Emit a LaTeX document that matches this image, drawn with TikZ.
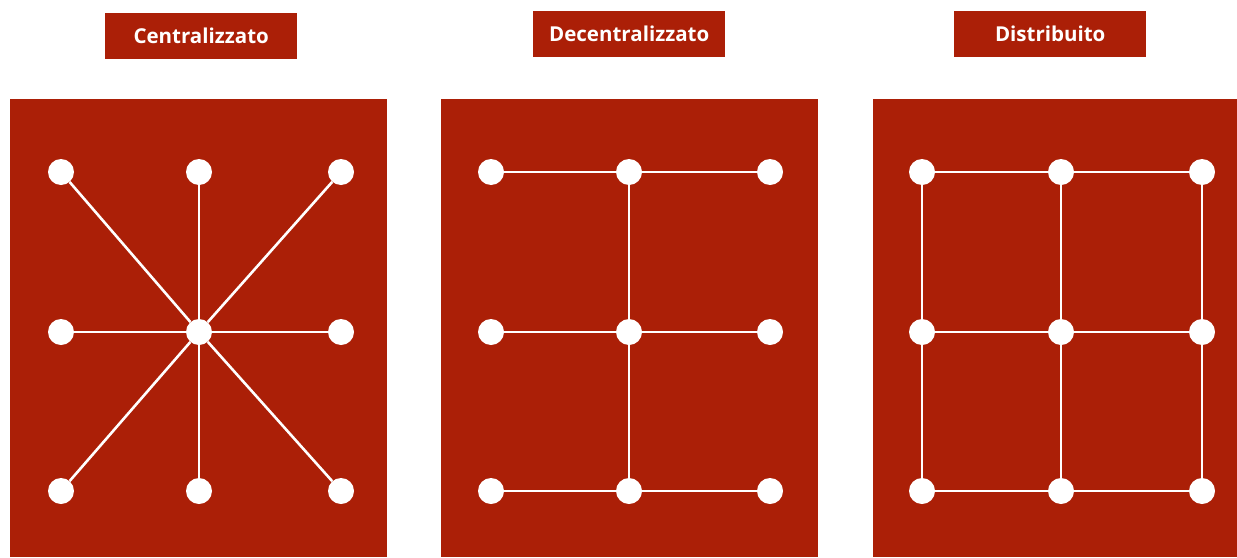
\documentclass[tikz,border=0pt]{standalone}
\usepackage{fontspec}
\setmainfont{Open Sans}
\definecolor{rosso}{RGB}{171,31,7}
\begin{document}
\begin{tikzpicture}[x=1pt,y=-1pt,
  panel/.style={fill=rosso,draw=none},
  titlebox/.style={fill=rosso,text=white,font=\fontsize{20.5}{22}\selectfont\bfseries,minimum width=192pt,minimum height=46pt,inner sep=0pt,anchor=north west},
  pt/.style={circle,fill=white,draw=none,minimum size=26pt,inner sep=0pt},
  link/.style={white,line width=2.6pt}]
\useasboundingbox (0,0) rectangle (1237,557);
\fill[white] (0,0) rectangle (1237,557);
% panels
\fill[panel] (10,99) rectangle (387,557);
\fill[panel] (441,99) rectangle (818,557);
\fill[panel] (873,99) rectangle (1237,557);
% titles
\node[titlebox] (t1) at (105,13) {\raisebox{1pt}{Centralizzato}};
\node[titlebox] (t2) at (533,11) {\raisebox{1pt}{Decentralizzato}};
\node[titlebox] (t3) at (954,11) {\raisebox{1pt}{Distribuito}};
% nodes
\foreach \c/\x in {1/61,2/199,3/341}{
  \foreach \r/\y in {1/172,2/332,3/491}{
    \node[pt] (a\r\c) at (\x,\y) {};
  }}
\foreach \c/\x in {1/491,2/629,3/770}{
  \foreach \r/\y in {1/172,2/332,3/491}{
    \node[pt] (b\r\c) at (\x,\y) {};
  }}
\foreach \c/\x in {1/922,2/1061,3/1202}{
  \foreach \r/\y in {1/172,2/332,3/491}{
    \node[pt] (c\r\c) at (\x,\y) {};
  }}
% panel 1 edges (star)
\foreach \n in {a11,a12,a13,a21,a23,a31,a32,a33}{
  \draw[link] (a22) -- (\n);
}
% panel 2 edges
\foreach \r in {1,2,3}{
  \draw[link] (b\r1) -- (b\r2);
  \draw[link] (b\r2) -- (b\r3);
}
\draw[link] (b12) -- (b22);
\draw[link] (b22) -- (b32);
% panel 3 edges (grid)
\foreach \r in {1,2,3}{
  \draw[link] (c\r1) -- (c\r2);
  \draw[link] (c\r2) -- (c\r3);
}
\foreach \c in {1,2,3}{
  \draw[link] (c1\c) -- (c2\c);
  \draw[link] (c2\c) -- (c3\c);
}
\end{tikzpicture}
\end{document}
